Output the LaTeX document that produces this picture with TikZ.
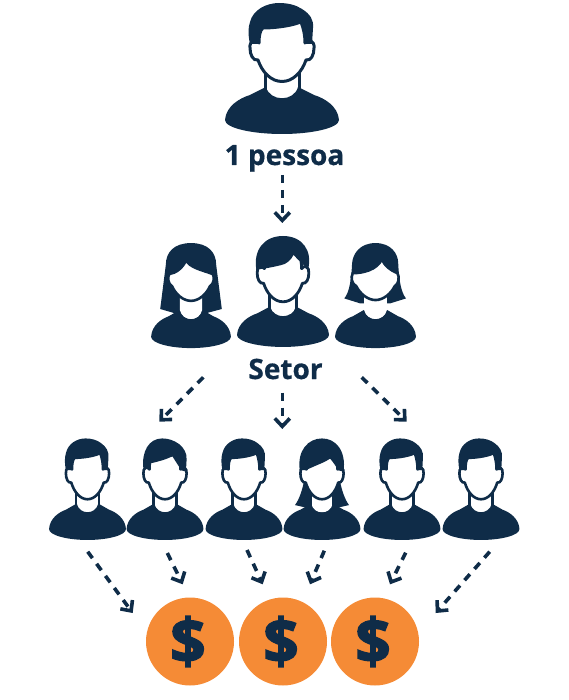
\documentclass[tikz,border=0pt]{standalone}
\usepackage{fontspec}
\usepackage{xcolor}
\usepackage{tikz}
\usetikzlibrary{arrows.meta}
\setmainfont[BoldFeatures={FakeBold=0.6}]{Open Sans}
\newfontfamily\coinfont[BoldFeatures={FakeBold=2.5}]{Open Sans}

\definecolor{navyicon}{HTML}{0F2C48}
\definecolor{coinorange}{HTML}{F58B36}

\tikzset{
    iconfill/.style={fill=navyicon, draw=none},
    faceline/.style={fill=white, draw=navyicon, line join=round},
    flow/.style={draw=navyicon, line width=3.6pt, dash pattern=on 8pt off 7pt, -{Straight Barb[length=8pt, width=15pt]}},
    caption/.style={anchor=base, text=navyicon, font=\fontsize{28}{30}\selectfont\bfseries, inner sep=0pt},
    coin/.style={circle, fill=coinorange, minimum size=88pt, inner sep=0pt, text=navyicon, font=\fontsize{62}{62}\coinfont\bfseries}
}

% torso with the collar cut out
\newcommand{\iconTorso}{
    \fill[iconfill] (-57,120) .. controls (-56,106) and (-42,98) .. (-32,95) -- (-16,87)
        .. controls (-12,102) and (12,102) .. (16,87) -- (32,95)
        .. controls (42,98) and (56,106) .. (57,120) .. controls (57,128) and (30,134) .. (0,134)
        .. controls (-30,134) and (-57,128) .. (-57,120) -- cycle;
}
% white neck, for hair that hangs behind it
\newcommand{\iconNeck}{
    \fill[white] (-16,68) -- (-16,87) .. controls (-12,102) and (12,102) .. (16,87) -- (16,68) -- cycle;
}
% face with ears
\newcommand{\iconFace}{
    \draw[faceline] (-19,28) .. controls (-12,28) and (6,27) .. (19,22) .. controls (22,30) and (23,36) .. (23,43)
        .. controls (26,38) and (33,41) .. (32,48) .. controls (32,55) and (29,61) .. (24,60)
        .. controls (20,72) and (11,81.5) .. (0,81.5) .. controls (-11,81.5) and (-20,72) .. (-24,60)
        .. controls (-29,61) and (-32,55) .. (-32,48) .. controls (-33,41) and (-26,38) .. (-23,43)
        .. controls (-23,36) and (-22,30) .. (-19,28) -- cycle;
}
% a person placed with x, y, xscale, yscale, line width and the parts
\newcommand{\iconPerson}[6]{
    \begin{scope}[shift={(#1,#2)}, xscale=#3, yscale=#4, line width=#5]
        #6
    \end{scope}
}
\newcommand{\manBase}{
    \iconTorso
    \draw[navyicon] (-17,90) -- (-17,70) (17,90) -- (17,70);
    \iconFace
}
% --- hair styles ---
\newcommand{\hairShort}{
    \fill[iconfill] (-32,44) .. controls (-34,35) and (-34,28) .. (-32,22) .. controls (-29,10) and (-16,3) .. (-3,3)
        .. controls (6,3) and (14,5) .. (20,9) .. controls (28,14) and (32,20) .. (31,28) -- (30,44) -- (23,44)
        .. controls (23,36) and (22,30) .. (19,22) .. controls (6,27) and (-12,28) .. (-19,28)
        .. controls (-22,30) and (-23,36) .. (-23,44) -- cycle;
}
\newcommand{\hairBowl}{
    \fill[iconfill] (-33,44) .. controls (-37,22) and (-24,5) .. (0,5) .. controls (24,5) and (37,22) .. (31,44)
        .. controls (25,38) and (19,33) .. (13,27) .. controls (10,33) and (4,38) .. (-3,39)
        .. controls (-12,41) and (-22,43) .. (-33,44) -- cycle;
}
\newcommand{\hairSide}{
    \fill[iconfill] (-32,42) .. controls (-35,20) and (-24,3) .. (-4,3) .. controls (14,3) and (33,14) .. (32,30) -- (31,46)
        -- (24,44) .. controls (20,38) and (15,32) .. (11,26) .. controls (2,30) and (-10,33) .. (-21,35)
        -- (-24,42) -- cycle;
}
\newcommand{\hairParted}{
    \fill[iconfill] (-33,44) .. controls (-37,18) and (-20,3) .. (0,3) .. controls (20,3) and (36,18) .. (32,46)
        -- (24,44) .. controls (20,38) and (16,33) .. (12,29) .. controls (4,34) and (-10,38) .. (-24,44) -- cycle;
}

\begin{document}
\begin{tikzpicture}[x=1pt, y=-1pt]

    \useasboundingbox (0,0) rectangle (568,700);

    % =================================================================
    % 1. COORDINATES OF THE ARROWS
    % =================================================================
    \coordinate (TopStart) at (282.3,175);
    \coordinate (TopEnd) at (282.3,223);

    \coordinate (SetorLeftStart) at (203.3,377.3);
    \coordinate (SetorLeftEnd) at (159.3,421.7);
    \coordinate (SetorMidStart) at (282.3,392.7);
    \coordinate (SetorMidEnd) at (282.3,429);
    \coordinate (SetorRightStart) at (361.7,377.3);
    \coordinate (SetorRightEnd) at (406.7,421.7);

    \coordinate (RowAStart) at (87.7,551.7);
    \coordinate (RowAEnd) at (132.7,613);
    \coordinate (RowBStart) at (167.3,553);
    \coordinate (RowBEnd) at (182.7,584.3);
    \coordinate (RowCStart) at (247,550);
    \coordinate (RowCEnd) at (262.7,584.3);
    \coordinate (RowDStart) at (324.3,550.7);
    \coordinate (RowDEnd) at (310,584.3);
    \coordinate (RowEStart) at (405.7,552.7);
    \coordinate (RowEEnd) at (390,584.3);
    \coordinate (RowFStart) at (489.7,551.7);
    \coordinate (RowFEnd) at (435.7,613);

    % =================================================================
    % 2. TOP PERSON
    % =================================================================
    \iconPerson{282}{0}{1}{1}{3pt}{\manBase\hairShort}

    \node[caption] (umaPessoa) at (284.5,165) {1 pessoa};

    % =================================================================
    % 3. SECTOR GROUP
    % =================================================================
    % --- long hair on the left ---
    \iconPerson{191}{239}{0.70}{0.814}{2.6pt}{
        \fill[iconfill] (0,5) .. controls (24,5) and (36,16) .. (36,32) -- (44,86) -- (18,92) -- (-20,92) -- (-44,86) -- (-36,32)
            .. controls (-36,16) and (-24,5) .. (0,5) -- cycle;
        \iconTorso
        \iconNeck
        \draw[faceline] (-7,26) .. controls (-2,35) and (15,38) .. (31,43) .. controls (34,47) and (33,55) .. (27,58)
            .. controls (22,68) and (11,76) .. (0,76) .. controls (-11,76) and (-22,68) .. (-27,58)
            .. controls (-33,55) and (-34,47) .. (-31,43) .. controls (-22,42) and (-12,36) .. (-7,26) -- cycle;
    }
    % --- man in the middle ---
    \iconPerson{283}{231.7}{0.807}{0.86}{2.8pt}{\manBase\hairBowl}
    % --- short hair on the right ---
    \iconPerson{375.5}{239}{0.71}{0.814}{2.6pt}{
        \fill[iconfill] (0,5) .. controls (22,5) and (32,18) .. (32,30) .. controls (33,50) and (36,66) .. (43,73)
            -- (21,79) -- (-22,79) -- (-44,73) .. controls (-37,66) and (-34,50) .. (-33,30)
            .. controls (-32,18) and (-22,5) .. (0,5) -- cycle;
        \iconTorso
        \iconNeck
        \draw[faceline] (9,25) .. controls (13,33) and (20,38) .. (31,42) .. controls (34,47) and (33,55) .. (27,58)
            .. controls (22,67) and (11,75) .. (0,75) .. controls (-11,75) and (-22,67) .. (-27,58)
            .. controls (-34,55) and (-35,47) .. (-32,42) .. controls (-18,42) and (2,38) .. (9,25) -- cycle;
    }

    \node[caption] (setorLabel) at (285.5,379) {Setor};

    % =================================================================
    % 4. BOTTOM ROW
    % =================================================================
    \iconPerson{87.5}{436.1}{0.675}{0.775}{2.6pt}{\manBase\hairShort}
    \iconPerson{165}{436.1}{0.675}{0.775}{2.6pt}{\manBase\hairSide}
    \iconPerson{244}{436.1}{0.675}{0.775}{2.6pt}{\manBase\hairShort}
    \iconPerson{322}{436.1}{0.675}{0.775}{2.6pt}{
        \fill[iconfill] (-26,55) .. controls (-29,70) and (-34,82) .. (-40,89) -- (-15,94) -- (15,94) -- (40,89)
            .. controls (34,82) and (29,70) .. (26,55) -- cycle;
        \iconTorso
        \iconNeck
        \draw[navyicon] (-17,92) -- (-17,70) (17,92) -- (17,70);
        \iconFace
        \hairParted
    }
    \iconPerson{402}{436.1}{0.675}{0.775}{2.6pt}{\manBase\hairShort}
    \iconPerson{481}{436.1}{0.675}{0.775}{2.6pt}{\manBase\hairShort}

    % =================================================================
    % 5. COINS
    % =================================================================
    \node[coin] (coinA) at (190,641.5) {\kern-2pt\$\kern2pt};
    \node[coin] (coinB) at (283,641.5) {\kern-2pt\$\kern2pt};
    \node[coin] (coinC) at (375,641.5) {\kern-2pt\$\kern2pt};

    % =================================================================
    % 6. ARROWS
    % =================================================================
    \draw[flow] (TopStart) -- (TopEnd);

    \draw[flow] (SetorLeftStart) -- (SetorLeftEnd);
    \draw[flow] (SetorMidStart) -- (SetorMidEnd);
    \draw[flow] (SetorRightStart) -- (SetorRightEnd);

    \draw[flow] (RowAStart) -- (RowAEnd);
    \draw[flow] (RowBStart) -- (RowBEnd);
    \draw[flow] (RowCStart) -- (RowCEnd);
    \draw[flow] (RowDStart) -- (RowDEnd);
    \draw[flow] (RowEStart) -- (RowEEnd);
    \draw[flow] (RowFStart) -- (RowFEnd);

\end{tikzpicture}
\end{document}
